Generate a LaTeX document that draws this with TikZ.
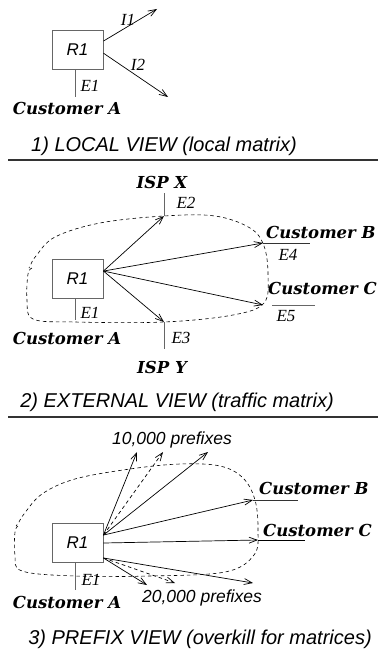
\documentclass[tikz,border=0pt]{standalone}
\usepackage{fontspec}
\newfontfamily\helv{Liberation Sans}
\newfontfamily\tms{Liberation Serif}
\newfontfamily\heavyserif{DejaVu Serif}
\usetikzlibrary{arrows.meta}
\definecolor{boxgray}{gray}{0.4}
\definecolor{rulegray}{gray}{0.2}

\begin{document}
\begin{tikzpicture}[x=1pt,y=-1pt,
  router/.style={draw=boxgray, line width=0.9pt, minimum width=51pt, minimum height=39pt,
    inner sep=0pt, font=\helv\itshape\fontsize{17}{17}\selectfont},
  flow/.style={line width=0.7pt, -{Straight Barb[length=8pt,width=6pt]}},
  dflow/.style={flow, dash pattern=on 3.5pt off 3pt},
  link/.style={draw=boxgray, line width=0.9pt},
  outlink/.style={draw=rulegray, line width=0.8pt},
  boundary/.style={line width=0.6pt, dash pattern=on 3.5pt off 3pt},
  elabel/.style={font=\tms\itshape\fontsize{17}{17}\selectfont, inner sep=0pt},
  cust/.style={font=\heavyserif\bfseries\itshape\fontsize{16.5}{16.5}\selectfont, inner sep=0pt},
  note/.style={font=\helv\itshape\fontsize{17.5}{17.5}\selectfont, inner sep=0pt},
  heading/.style={font=\helv\itshape\fontsize{20}{20}\selectfont, inner sep=0pt},
  hrule/.style={draw=rulegray, line width=1.4pt}
]
\useasboundingbox (0,0) rectangle (378,661);

% ---------- 1) local view ----------
\node[router] (ra) at (77.5,50) {R1};
\coordinate (ea) at (75,97);
\draw[link] (ea |- ra.south) -- (ea);
\node[elabel] (ea-l) at (90,86) {E1};
\node[cust] (custa-a) at (67,108) {Customer A};
\coordinate (i1) at (157,9);
\coordinate (i2) at (168,97);
\draw[flow] (ra.19) -- (i1);
\draw[flow] (ra.-7) -- (i2);
\node[elabel] (i1-l) at (128,20) {I1};
\node[elabel] (i2-l) at (138,65) {I2};

\node[heading] (t1) at (164,146) {1) LOCAL VIEW (local matrix)};
\coordinate (r1l) at (8,160);
\coordinate (r1r) at (378,160);
\draw[hrule] (r1l) -- (r1r);

% ---------- 2) external view ----------
\node[router] (rb) at (77.5,279) {R1};
\coordinate (eb1) at (75,320);
\draw[link] (eb1 |- rb.south) -- (eb1);
\node[elabel] (eb1-l) at (90,313) {E1};
\node[cust] (custa-b) at (67,338) {Customer A};

\coordinate (e2) at (164,216);
\coordinate (e2t) at (164,193);
\coordinate (e3) at (164,322);
\coordinate (e3b) at (164,349);
\coordinate (e4) at (263,243);
\coordinate (e4r) at (310,243);
\coordinate (e5) at (263,305);
\coordinate (e5l) at (272,305);
\coordinate (e5r) at (315,305);

\draw[boundary] plot[smooth, tension=0.6] coordinates {
  (32,268) (28,274) (27,300) (33,319) (75,322) (164,322) (233,315) (264,303)
  (268,275) (264,246) (250,228) (215,216) (164,216) (100,223) (55,237) (36,256) (31,264) (29,268)};

\draw[link] (e2t) -- (e2);
\draw[link] (e3) -- (e3b);
\draw[outlink] (e4) -- (e4r);
\draw[link] (e5l) -- (e5r);

\draw[flow] (rb.17) -- (e2);
\draw[flow] (rb.17) -- (e4);
\draw[flow] (rb.17) -- (e5);
\draw[flow] (rb.17) -- (e3);

\node[cust] (ispx) at (162,182) {ISP X};
\node[elabel] (e2-l) at (186,203) {E2};
\node[cust, anchor=west] (custb-b) at (266,232) {Customer B};
\node[elabel] (e4-l) at (288,255) {E4};
\node[cust, anchor=east] (custc-b) at (377,288) {Customer C};
\node[elabel] (e5-l) at (286,316) {E5};
\node[elabel] (e3-l) at (181,338) {E3};
\node[cust] (ispy) at (162,367) {ISP Y};

\node[heading] (t2) at (177,402) {2) EXTERNAL VIEW (traffic matrix)};
\coordinate (r2l) at (8,417);
\coordinate (r2r) at (378,417);
\draw[hrule] (r2l) -- (r2r);

% ---------- 3) prefix view ----------
\node[router] (rc) at (77.5,543) {R1};
\coordinate (ec1) at (75,590);
\draw[link] (ec1 |- rc.south) -- (ec1);
\node[elabel] (ec1-l) at (91,580) {E1};
\node[cust] (custa-c) at (67,602) {Customer A};

\draw[boundary] plot[smooth, tension=0.6] coordinates {
  (18,526) (15,532) (15,555) (22,571) (75,576) (150,576) (225,572) (254,555)
  (258,530) (255,500) (243,478) (220,466) (180,464) (130,469) (75,479) (42,494) (24,514) (19,522) (16,526)};

\coordinate (u1) at (137,452);
\coordinate (u2) at (163,452);
\coordinate (u3) at (208,452);
\coordinate (cb3) at (253,500);
\coordinate (cb3r) at (298,500);
\coordinate (cc3) at (258,540);
\coordinate (cc3r) at (305,540);
\coordinate (d1) at (147,585);
\coordinate (d2) at (175,583);
\coordinate (d3) at (253,583);

\draw[outlink] (cb3) -- (cb3r);
\draw[line width=0.7pt] (cc3) -- (cc3r);

\draw[flow] (rc.17) -- (u1);
\draw[dflow] (rc.17) -- (u2);
\draw[flow] (rc.17) -- (u3);
\draw[flow] (rc.17) -- (cb3);
\draw[flow] (rc.east) -- (cc3);
\draw[flow] (rc.-30) -- (d1);
\draw[dflow] (rc.-30) -- (d2);
\draw[flow] (rc.-30) -- (d3);

\node[note] (p10) at (172,440) {10,000 prefixes};
\node[note] (p20) at (202,598) {20,000 prefixes};
\node[cust, anchor=west] (custb-c) at (259,488) {Customer B};
\node[cust, anchor=west] (custc-c) at (263,530) {Customer C};

\node[heading] (t3) at (200,639) {3) PREFIX VIEW (overkill for matrices)};
\end{tikzpicture}
\end{document}
